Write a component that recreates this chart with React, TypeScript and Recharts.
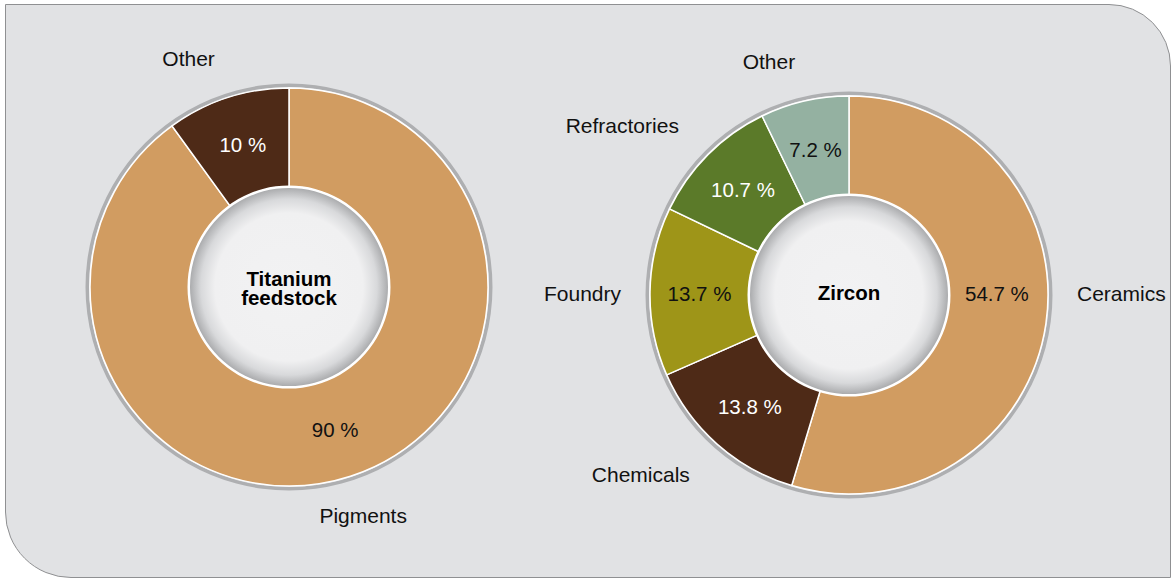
import React from "react";
import { PieChart, Pie, Cell } from "recharts";

// Titanium feedstock end uses
const titaniumNames = ["Pigments", "Other"];
const titaniumShares = [90, 10];
const titaniumColors = ["#d19c61", "#4e2a17"];
const titaniumTextColors = ["#111111", "#ffffff"];

// Zircon end uses
const zirconNames = ["Ceramics", "Chemicals", "Foundry", "Refractories", "Other"];
const zirconShares = [54.7, 13.8, 13.7, 10.7, 7.2];
const zirconColors = ["#d19c61", "#4e2a17", "#9e9518", "#5b7a29", "#94b1a1"];
const zirconTextColors = ["#111111", "#ffffff", "#111111", "#ffffff", "#111111"];

const RADIAN = Math.PI / 180;
const FONT = "'Liberation Sans', Arial, Helvetica, sans-serif";

const toRows = (names: string[], values: number[]) =>
  names.map((name, i) => ({ name, value: values[i] }));

function makeLabel(textColors: string[]) {
  return (props: any) => {
    const { cx, cy, midAngle, innerRadius, outerRadius, value, name, index } = props;
    const cos = Math.cos(-midAngle * RADIAN);
    const sin = Math.sin(-midAngle * RADIAN);
    const flat = Math.abs(sin) < 0.2;

    // percentage inside the ring
    const rIn = (innerRadius + outerRadius) / 2;
    const px = cx + rIn * cos;
    const py = flat ? cy - 2 : cy + rIn * sin;

    // category name outside
    const rOut = outerRadius + 41;
    let nx = cx + rOut * cos;
    let ny = cy + rOut * sin;
    if (flat) {
      nx = cx + (outerRadius + 29) * Math.sign(cos);
      ny = cy - 2;
    }
    const anchor = cos < -0.1 ? "end" : cos > 0.4 ? "start" : "middle";

    return (
      <g>
        <text
          x={px}
          y={py}
          textAnchor="middle"
          dominantBaseline="central"
          fill={textColors[index]}
          style={{ fontFamily: FONT, fontSize: 20.5 }}
        >
          {`${value} %`}
        </text>
        <text
          x={nx}
          y={ny}
          textAnchor={anchor}
          dominantBaseline="central"
          fill="#111111"
          style={{ fontFamily: FONT, fontSize: 21 }}
        >
          {name}
        </text>
      </g>
    );
  };
}

function makeTitle(lines: string[]) {
  return (props: any) => {
    const { cx, cy } = props;
    const first = cy + 5 - (lines.length - 1) * 6.5;
    return (
      <text
        textAnchor="middle"
        fill="#000000"
        style={{ fontFamily: FONT, fontSize: 20.5, fontWeight: 700 }}
      >
        {lines.map((l, i) => (
          <tspan key={l} x={cx} y={first + i * 19.5}>
            {l}
          </tspan>
        ))}
      </text>
    );
  };
}

function Donut({
  id,
  cx,
  cy,
  names,
  values,
  colors,
  textColors,
  title,
}: {
  id: string;
  cx: number;
  cy: number;
  names: string[];
  values: number[];
  colors: string[];
  textColors: string[];
  title: string[];
}) {
  return [
    <Pie
      key={id + "-ring"}
      data={[{ name: "ring", value: 1 }]}
      dataKey="value"
      cx={cx}
      cy={cy}
      innerRadius={200}
      outerRadius={203.5}
      fill="#aeafb1"
      stroke="none"
      isAnimationActive={false}
    />,
    <Pie
      key={id + "-main"}
      data={toRows(names, values)}
      dataKey="value"
      nameKey="name"
      cx={cx}
      cy={cy}
      innerRadius={100}
      outerRadius={199}
      startAngle={90}
      endAngle={-270}
      stroke="#ffffff"
      strokeWidth={1.5}
      label={makeLabel(textColors)}
      labelLine={false}
      isAnimationActive={false}
    >
      {names.map((n, i) => (
        <Cell key={n + i} fill={colors[i]} />
      ))}
    </Pie>,
    <Pie
      key={id + "-hub"}
      data={[{ name: "hub", value: 1 }]}
      dataKey="value"
      cx={cx}
      cy={cy}
      innerRadius={0}
      outerRadius={100}
      fill="url(#hubGrad)"
      stroke="none"
      label={makeTitle(title)}
      labelLine={false}
      isAnimationActive={false}
    />,
    <Pie
      key={id + "-hubEdge"}
      data={[{ name: "hubEdge", value: 1 }]}
      dataKey="value"
      cx={cx}
      cy={cy}
      innerRadius={99}
      outerRadius={101.5}
      fill="#ffffff"
      stroke="none"
      isAnimationActive={false}
    />,
  ];
}

export default function App() {
  return (
    <div style={{ position: "absolute", left: 0, top: 0, width: 1171, height: 579, overflow: "hidden" }}>
      <div
        style={{
          position: "absolute",
          left: 5,
          top: 4,
          width: 1166,
          height: 574,
          boxSizing: "border-box",
          background: "#e1e2e4",
          border: "1px solid #8f9092",
          borderRadius: "0 62px 0 66px",
        }}
      />
      <div style={{ position: "absolute", left: 0, top: 0 }}>
        <PieChart width={1171} height={579} margin={{ top: 0, right: 0, bottom: 0, left: 0 }}>
          <defs>
            <radialGradient id="hubGrad" cx="50%" cy="50%" r="50%">
              <stop offset="0%" stopColor="#f2f2f3" />
              <stop offset="74%" stopColor="#f0f0f1" />
              <stop offset="88%" stopColor="#d8d9db" />
              <stop offset="100%" stopColor="#a7a8aa" />
            </radialGradient>
          </defs>
          {Donut({
            id: "ti",
            cx: 289,
            cy: 287,
            names: titaniumNames,
            values: titaniumShares,
            colors: titaniumColors,
            textColors: titaniumTextColors,
            title: ["Titanium", "feedstock"],
          })}
          {Donut({
            id: "zr",
            cx: 849,
            cy: 295,
            names: zirconNames,
            values: zirconShares,
            colors: zirconColors,
            textColors: zirconTextColors,
            title: ["Zircon"],
          })}
        </PieChart>
      </div>
    </div>
  );
}
